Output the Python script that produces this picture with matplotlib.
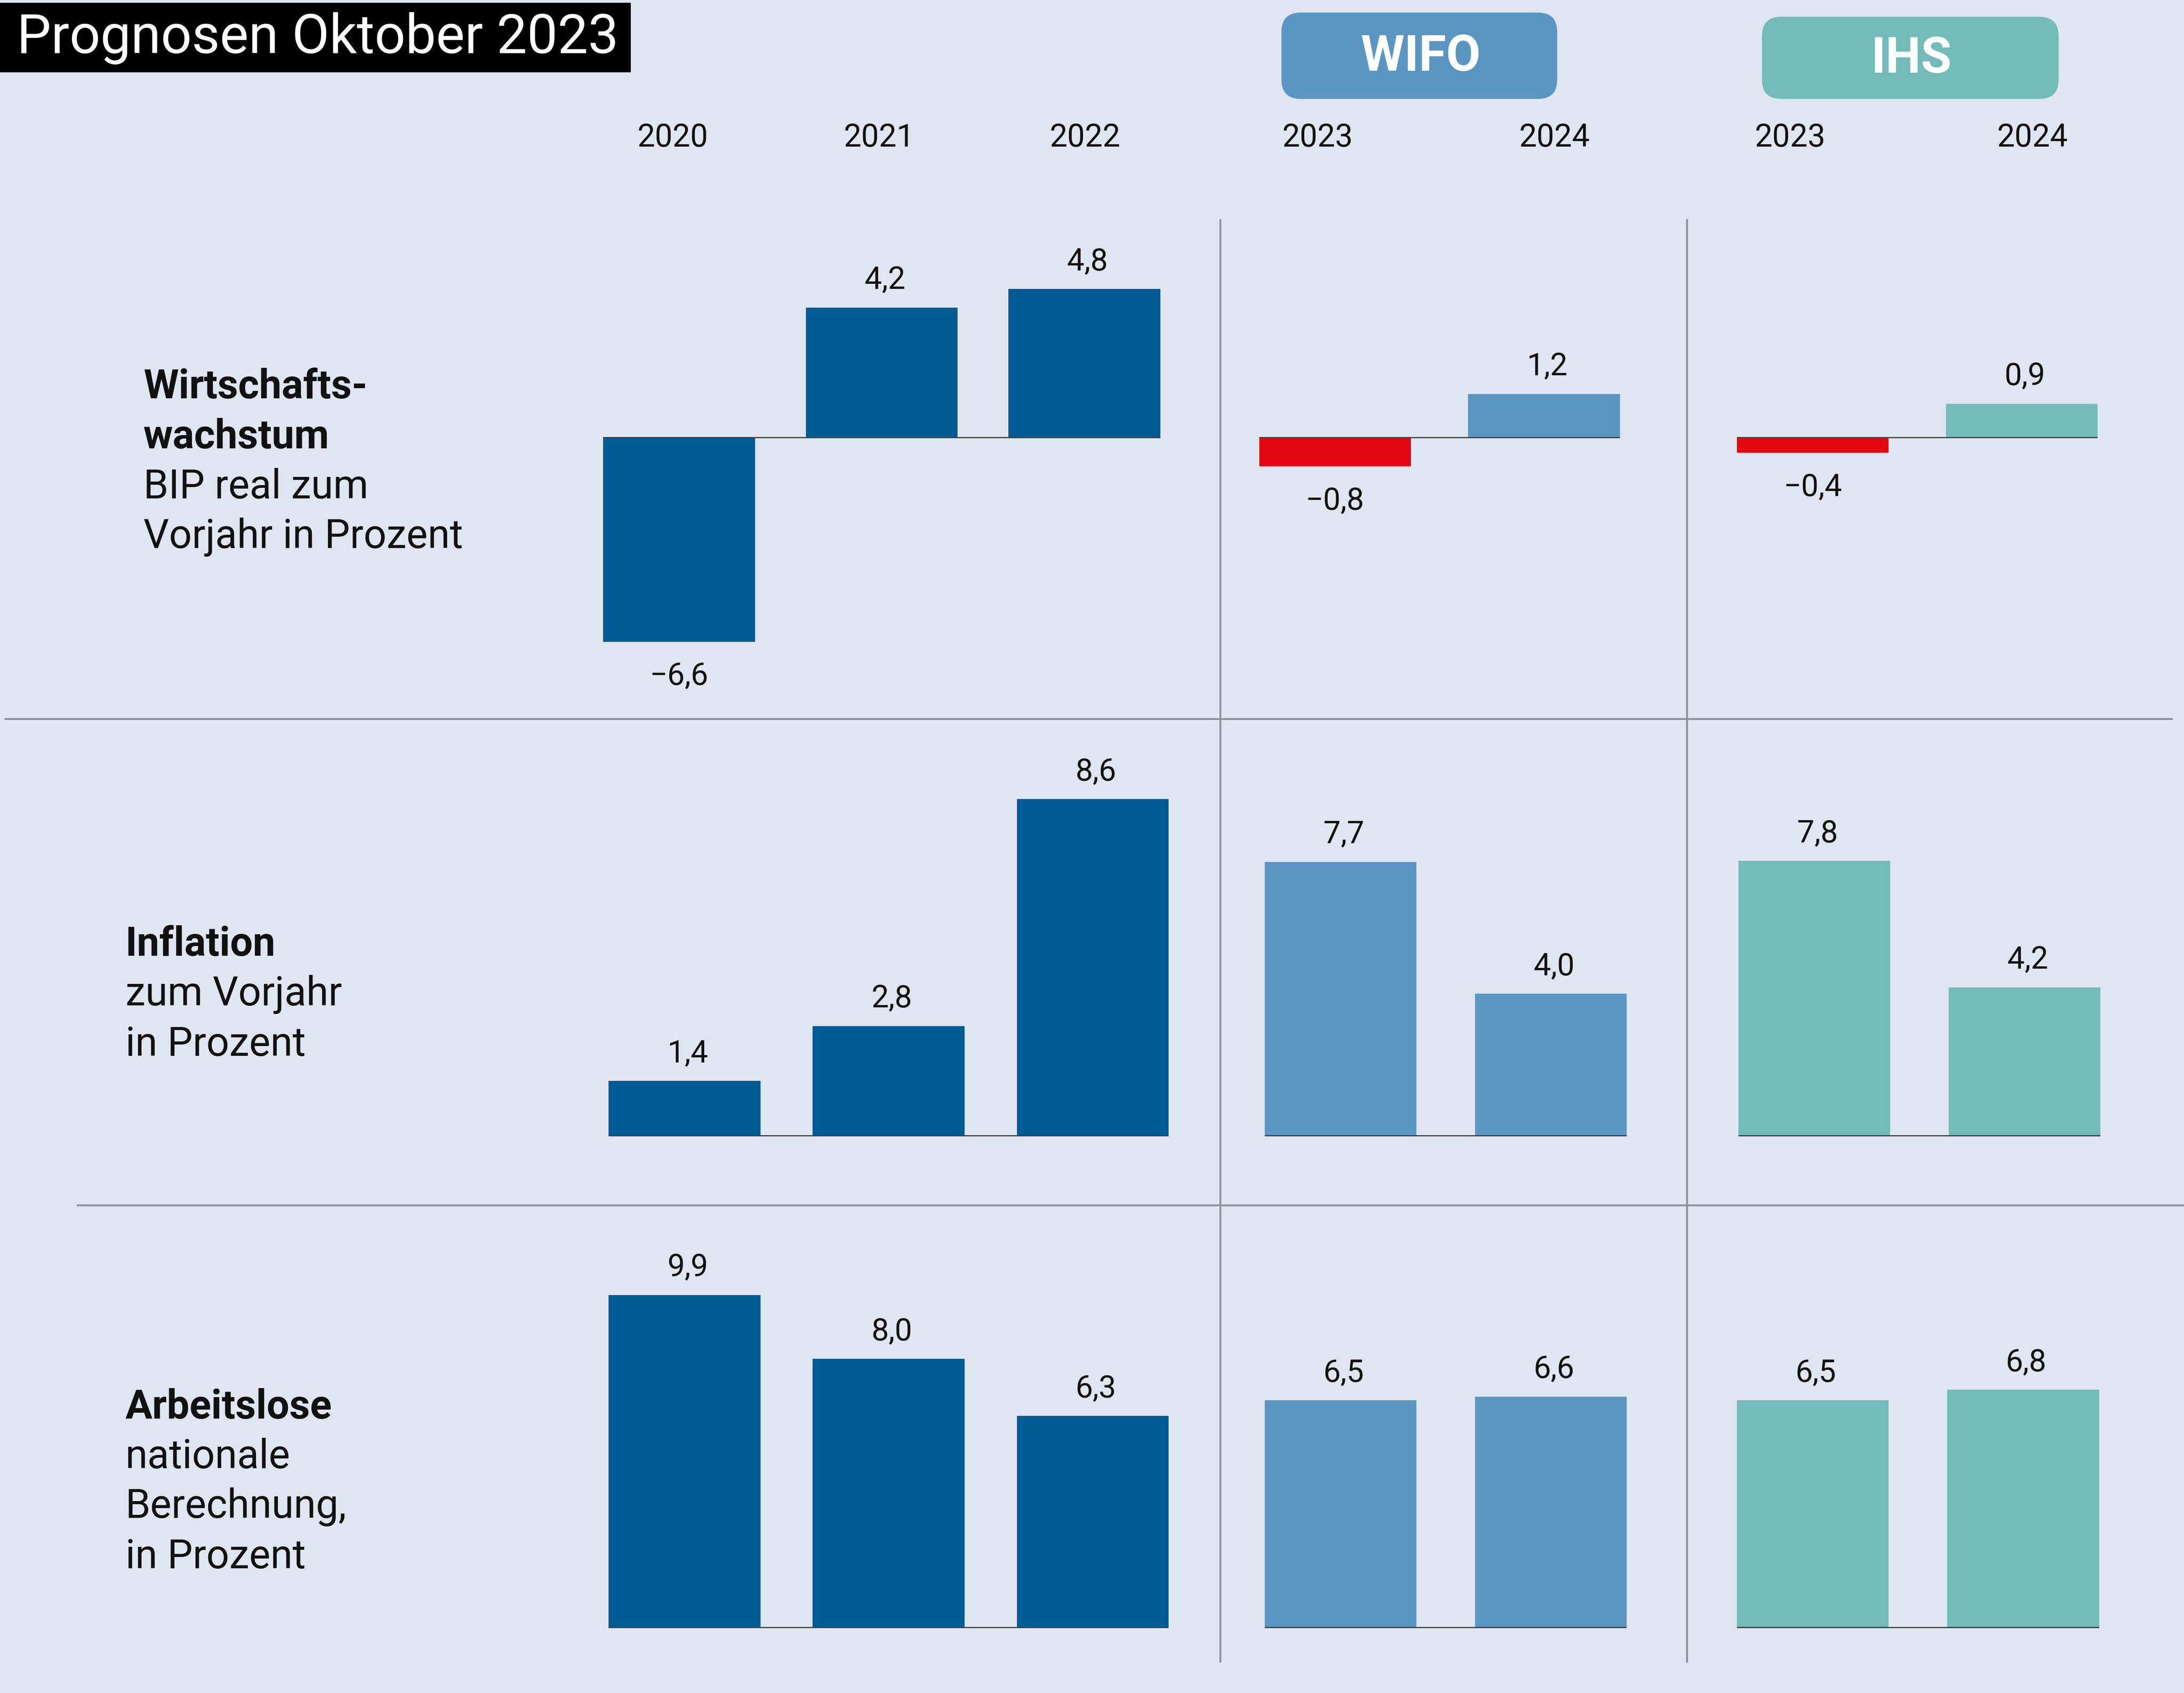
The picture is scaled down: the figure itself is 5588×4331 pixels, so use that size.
import matplotlib
matplotlib.use("Agg")
import matplotlib.pyplot as plt
from matplotlib.patches import FancyBboxPatch, Rectangle

# ---------------- data ----------------
title = "Prognosen Oktober 2023"
years_hist = ["2020", "2021", "2022"]
years_fc = ["2023", "2024"]
groups = ["WIFO", "IHS"]

gdp_hist = [-6.6, 4.2, 4.8]
gdp_wifo = [-0.8, 1.2]
gdp_ihs = [-0.4, 0.9]
infl_hist = [1.4, 2.8, 8.6]
infl_wifo = [7.7, 4.0]
infl_ihs = [7.8, 4.2]
unemp_hist = [9.9, 8.0, 6.3]
unemp_wifo = [6.5, 6.6]
unemp_ihs = [6.5, 6.8]

row_titles = [["Wirtschafts-", "wachstum"], ["Inflation"], ["Arbeitslose"]]
row_subtitles = [["BIP real zum", "Vorjahr in Prozent"],
                 ["zum Vorjahr", "in Prozent"],
                 ["nationale", "Berechnung,", "in Prozent"]]

# ---------------- style ----------------
BG = "#dfe5f1"
C_HIST = "#005b94"
C_WIFO = "#5b96c3"
C_IHS = "#72bbb8"
C_NEG = "#e30613"
C_GRID = "#8e9399"
C_BASE = "#3f3f3f"
FONT = ["Roboto", "DejaVu Sans"]
plt.rcParams["font.family"] = FONT

W, H = 5588, 4331
DW, DH = 1568.0, 1215.0  # layout units (reference preview coordinates)

fig = plt.figure(figsize=(W / 100, H / 100), dpi=100, facecolor=BG)

ov = fig.add_axes([0, 0, 1, 1], zorder=0)
ov.set_xlim(0, DW)
ov.set_ylim(DH, 0)
ov.axis("off")
ov.patch.set_alpha(0)


def fmt(v):
    s = f"{abs(v):.1f}".replace(".", ",")
    return ("\u2212" + s) if v < 0 else s


# title box
ov.add_patch(Rectangle((0, 2), 453, 50, facecolor="black", edgecolor="none"))
ov.text(12, 27.5, title, color="white", fontsize=100, va="center", ha="left")

# badges
badges = [("WIFO", 920, 9, 198, 62, C_WIFO), ("IHS", 1265, 12, 213, 59, C_IHS)]
for name, bx, by, bw, bh, bc in badges:
    ov.add_patch(FancyBboxPatch((bx, by), bw, bh,
                                boxstyle="round,pad=0,rounding_size=14",
                                facecolor=bc, edgecolor="none"))
    ov.text(bx + bw / 2 + 1, by + bh / 2 + 1, name, color="white", fontsize=92,
            fontweight="bold", ha="center", va="center")

# year labels
year_x = [483, 631, 779, 946, 1116, 1285, 1459]
year_labels = years_hist + years_fc + years_fc
for x, lab in zip(year_x, year_labels):
    ov.text(x, 99, lab, fontsize=58, ha="center", va="center", color="#111111")

# grid lines
ov.plot([3, 1560], [516, 516], color=C_GRID, lw=3.5, solid_capstyle="butt")
ov.plot([55, 1568], [865, 865], color=C_GRID, lw=3.5, solid_capstyle="butt")
for x in [876, 1211]:
    ov.plot([x, x], [157, 1193], color=C_GRID, lw=3.5, solid_capstyle="butt")

# row labels
label_pos = [(103, 278), (90, 678), (90, 1010)]
line_step = 35.8
for (lx, ly), tl, sl in zip(label_pos, row_titles, row_subtitles):
    k = 0
    for t in tl:
        ov.text(lx, ly + k * line_step, t, fontsize=74, fontweight="bold",
                ha="left", va="center", color="#111111")
        k += 1
    for t in sl:
        ov.text(lx, ly + k * line_step, t, fontsize=74, ha="left", va="center",
                color="#111111")
        k += 1

# ---------------- bar panels ----------------
rows = [
    dict(top=160, bottom=508, base=314,
         panels=[(gdp_hist, 433, 145.5, 109, 22.2, C_HIST),
                 (gdp_wifo, 904, 150, 109, 26.0, C_WIFO),
                 (gdp_ihs, 1247, 150, 109, 27.0, C_IHS)]),
    dict(top=522, bottom=860, base=815,
         panels=[(infl_hist, 437, 146.5, 109, 28.1, C_HIST),
                 (infl_wifo, 908, 151, 109, 25.5, C_WIFO),
                 (infl_ihs, 1248, 151, 109, 25.3, C_IHS)]),
    dict(top=872, bottom=1190, base=1168,
         panels=[(unemp_hist, 437, 146.5, 109, 24.1, C_HIST),
                 (unemp_wifo, 908, 151, 109, 25.1, C_WIFO),
                 (unemp_ihs, 1247, 151, 109, 25.1, C_IHS)]),
]

for row in rows:
    for vals, left, pitch, width, scale, col in row["panels"]:
        n = len(vals)
        right = left + (n - 1) * pitch + width
        wu = width / pitch
        ax = fig.add_axes([left / DW, 1 - row["bottom"] / DH,
                           (right - left) / DW, (row["bottom"] - row["top"]) / DH],
                          zorder=1)
        ax.patch.set_alpha(0)
        ax.set_xlim(-wu / 2, n - 1 + wu / 2)
        ax.set_ylim(-(row["bottom"] - row["base"]) / scale,
                    (row["base"] - row["top"]) / scale)
        ax.axis("off")
        colors = [C_NEG if (v < 0 and col != C_HIST) else col for v in vals]
        ax.bar(range(n), vals, width=wu, color=colors, edgecolor="none", zorder=2)
        ax.axhline(0, color=C_BASE, lw=2.2, zorder=3)
        for i, v in enumerate(vals):
            if v >= 0:
                ax.annotate(fmt(v), (i, v), xytext=(8, 48), textcoords="offset pixels",
                            ha="center", va="baseline", fontsize=57, color="#111111")
            else:
                ax.annotate(fmt(v), (i, v), xytext=(0, -50), textcoords="offset pixels",
                            ha="center", va="top", fontsize=57, color="#111111")

fig.savefig("out.png", dpi=100, facecolor=BG)
